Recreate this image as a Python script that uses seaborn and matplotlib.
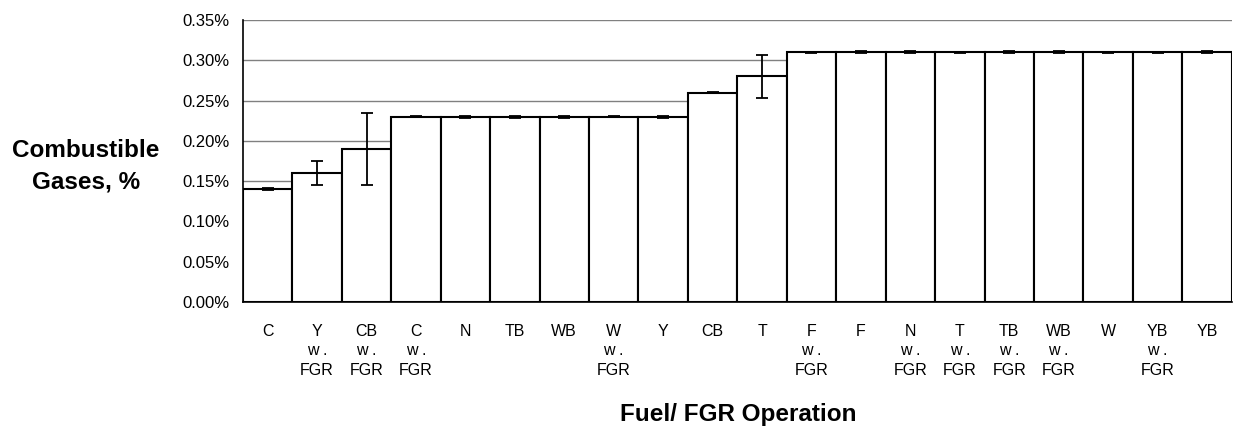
import numpy as np
import pandas as pd
import matplotlib
matplotlib.use('Agg')
import matplotlib.pyplot as plt
from matplotlib.ticker import PercentFormatter, FixedLocator
import seaborn as sb

# categories (fuel / FGR operation) in plotted order
operations = ['C', 'Y\nw .\nFGR', 'CB\nw .\nFGR', 'C\nw .\nFGR', 'N', 'TB', 'WB',
              'W\nw .\nFGR', 'Y', 'CB', 'T', 'F\nw .\nFGR', 'F', 'N\nw .\nFGR',
              'T\nw .\nFGR', 'TB\nw .\nFGR', 'WB\nw .\nFGR', 'W', 'YB\nw .\nFGR', 'YB']
# combustible gases in percent
combustibles = [0.14, 0.16, 0.19, 0.23, 0.23, 0.23, 0.23, 0.23, 0.23, 0.26,
                0.28, 0.31, 0.31, 0.31, 0.31, 0.31, 0.31, 0.31, 0.31, 0.31]
# half-width of the error bars, percent
errors = [0.001, 0.015, 0.045, 0.0005, 0.001, 0.001, 0.001, 0.0005, 0.001, 0.0005,
          0.027, 0.0005, 0.0015, 0.0015, 0.0005, 0.0015, 0.0015, 0.0005, 0.0005, 0.0015]

df = pd.DataFrame({'op': operations, 'val': combustibles, 'err': errors})

sb.set_style('white')
plt.rcParams['font.family'] = ['Liberation Sans', 'DejaVu Sans']
plt.rcParams['text.color'] = 'black'
plt.rcParams['xtick.color'] = 'black'
plt.rcParams['ytick.color'] = 'black'
plt.rcParams['xtick.labelcolor'] = 'black'
plt.rcParams['ytick.labelcolor'] = 'black'

fig = plt.figure(figsize=(12.33, 4.26), dpi=100)
ax = fig.add_axes([0.197, 0.291, 0.802, 0.662])

# horizontal grid behind the bars
for yv in np.arange(0.05, 0.351, 0.05):
    ax.axhline(yv, color='#808080', lw=1.0, zorder=0)

sb.barplot(data=df, x='op', y='val', order=operations, color='white',
           edgecolor='black', linewidth=1.5, width=1.0, errorbar=None,
           saturation=1, ax=ax, zorder=2)
for p in ax.patches:
    p.set_facecolor('white')

ax.errorbar(np.arange(len(operations)), df['val'], yerr=df['err'], fmt='none',
            ecolor='black', elinewidth=1.3, capsize=4.5, capthick=1.3, zorder=3)

ax.set_xlim(-0.5, len(operations) - 0.5)
ax.set_ylim(0, 0.35)
ax.yaxis.set_major_locator(FixedLocator(np.arange(0, 0.351, 0.05)))
ax.yaxis.set_major_formatter(PercentFormatter(decimals=2))

ax.set_xticks(np.arange(len(operations)))
ax.set_xticklabels(operations, fontsize=11.5, linespacing=1.38, va='top', color='black')
ax.set_xticks(np.arange(-0.5, len(operations)), minor=True)
ax.tick_params(axis='x', which='major', length=0, pad=15.5)
ax.tick_params(axis='x', which='minor', length=3.2, width=1, direction='out', color='black')
ax.tick_params(axis='y', length=3.6, width=1, direction='out', color='black',
               labelcolor='black', labelsize=12, pad=6)

for s in ['top', 'right']:
    ax.spines[s].set_visible(False)
for s in ['left', 'bottom']:
    ax.spines[s].set_color('black')
    ax.spines[s].set_linewidth(1.2)

ax.set_xlabel('')
ax.set_ylabel('')
fig.text(0.5985, 1 - 421.5 / 426, 'Fuel/ FGR Operation', fontsize=17.5,
         fontweight='bold', ha='center', va='baseline', color='black')
fig.text(86 / 1233, 1 - 166 / 426, 'Combustible\nGases, %', fontsize=17.5,
         fontweight='bold', ha='center', va='center', multialignment='center',
         linespacing=1.45, color='black')

fig.savefig('out.png', dpi=100)
